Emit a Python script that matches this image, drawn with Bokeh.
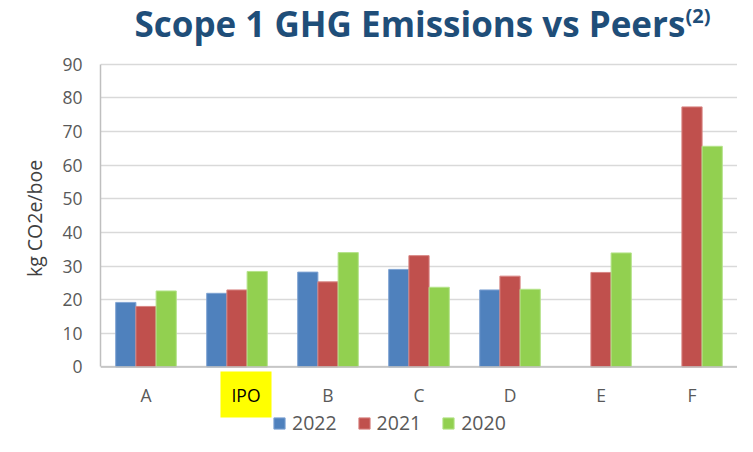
from bokeh.plotting import figure
from bokeh.models import (ColumnDataSource, Label, Legend, LegendItem,
                          FixedTicker, Range1d, Span)
from bokeh.transform import dodge
from bokeh.embed import file_html
from bokeh.resources import INLINE

categories = ["A", "IPO", "B", "C", "D", "E", "F"]
v2022 = [19.2, 21.9, 28.2, 29.0, 22.9, float("nan"), float("nan")]
v2021 = [18.0, 22.9, 25.3, 33.1, 27.0, 28.1, 77.3]
v2020 = [22.6, 28.4, 34.0, 23.7, 23.1, 33.9, 65.6]
years = ["2022", "2021", "2020"]
y_ticks = [0, 10, 20, 30, 40, 50, 60, 70, 80, 90]

colors = ["#4F81BD", "#C0504D", "#92D050"]
edges = ["#7FA3D3", "#D88583", "#B5E38A"]
grey_text = "#595959"

src = ColumnDataSource(dict(x=list(range(len(categories))),
                            v2022=v2022, v2021=v2021, v2020=v2020))

# frame covers the whole canvas except the left axis panel; the extra data
# range above/below 0..90 holds the title, category labels and legend
p = figure(width=737, height=436, output_backend="svg", toolbar_location=None,
           x_range=Range1d(-0.5, len(categories) - 0.5),
           y_range=Range1d(-20.66, 108.93),
           min_border_left=100, min_border_right=0, min_border_top=0,
           min_border_bottom=0)
p.outline_line_color = None
p.background_fill_color = "white"
p.xaxis.visible = False

bw = 0.222
renderers = []
for i, (col, c, e) in enumerate(zip(["v2022", "v2021", "v2020"], colors, edges)):
    r = p.vbar(x=dodge("x", (i - 1) * bw, range=p.x_range), top=col, width=bw,
               source=src, fill_color=c, line_color=e, line_width=1)
    renderers.append(r)

p.xgrid.visible = False
p.ygrid.grid_line_color = "#D9D9D9"
p.ygrid.grid_line_width = 1.5
p.ygrid.level = "underlay"

yax = p.yaxis[0]
yax.ticker = FixedTicker(ticks=y_ticks)
yax.bounds = (y_ticks[0], y_ticks[-1])
yax.axis_line_color = "#BFBFBF"
yax.axis_line_width = 1.5
yax.major_tick_line_color = None
yax.minor_tick_line_color = None
yax.major_tick_out = 0
yax.major_tick_in = 0
yax.major_label_text_font = "Open Sans"
yax.major_label_text_font_size = "17.5px"
yax.major_label_text_color = grey_text
yax.major_label_standoff = 18
yax.axis_label = "kg CO2e/boe"
yax.axis_label_text_font = "Open Sans"
yax.axis_label_text_font_style = "normal"
yax.axis_label_text_font_size = "19.5px"
yax.axis_label_text_color = "#404040"
yax.axis_label_standoff = 11

# category axis baseline
p.add_layout(Span(location=0, dimension="width", line_color="#BFBFBF", line_width=1.5))

# category labels (IPO highlighted, slightly offset as in the original)
for i, c in enumerate(categories):
    hl = c == "IPO"
    p.add_layout(Label(x=i, y=42, x_units="data", y_units="screen",
                       x_offset=9 if hl else 0,
                       text=c, text_align="center", text_baseline="middle",
                       text_font="Open Sans", text_font_size="17.5px",
                       text_color="black" if hl else grey_text,
                       background_fill_color="#FFFF00" if hl else None,
                       padding=11 if hl else 0))

# Title with superscript note
p.add_layout(Label(x=34, y=413, x_units="screen", y_units="screen",
                   text="Scope 1 GHG Emissions vs Peers", text_align="left",
                   text_baseline="alphabetic", text_font="Open Sans",
                   text_font_style="bold", text_font_size="35px",
                   text_color="#1F4E79"))
p.add_layout(Label(x=585, y=421, x_units="screen", y_units="screen",
                   text="(2)", text_align="left", text_baseline="alphabetic",
                   text_font="Open Sans", text_font_style="bold",
                   text_font_size="20px", text_color="#1F4E79"))

legend = Legend(items=[LegendItem(label=y, renderers=[r]) for y, r in zip(years, renderers)],
                orientation="horizontal", location=(172, 0))
legend.glyph_width = 14
legend.glyph_height = 14
legend.label_text_font = "Open Sans"
legend.label_text_font_size = "19.5px"
legend.label_text_color = grey_text
legend.label_standoff = 6
legend.spacing = 20
legend.padding = 0
legend.margin = 0
legend.border_line_color = None
legend.background_fill_alpha = 0
p.add_layout(legend)

open("out.html", "w").write(file_html(p, INLINE))
